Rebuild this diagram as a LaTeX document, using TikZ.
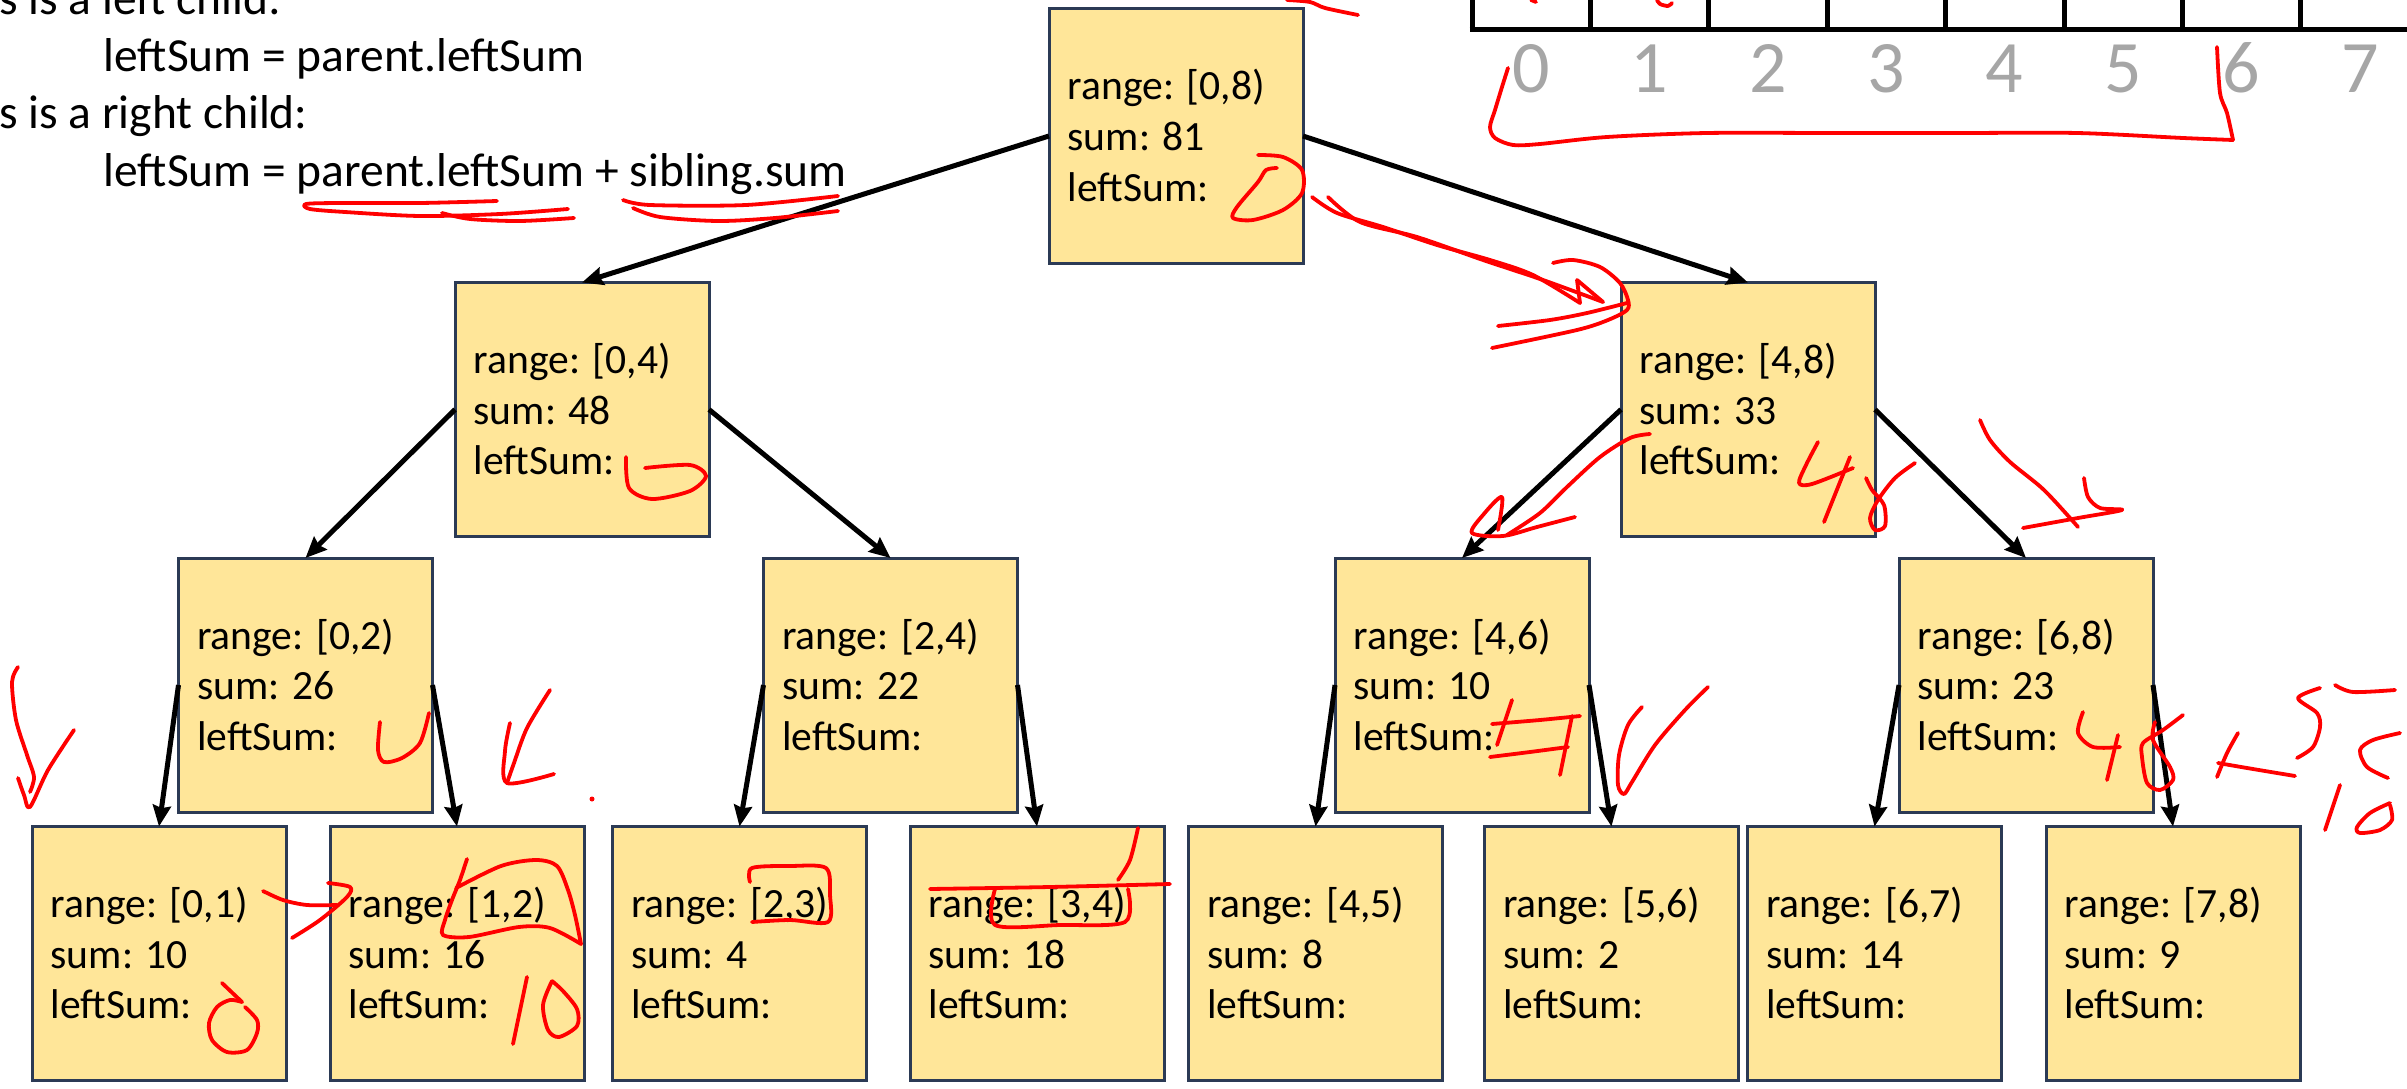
\documentclass[tikz,border=0pt]{standalone}
\usepackage{fontspec}
\setmainfont{Carlito}
\usetikzlibrary{arrows.meta,calc}
\definecolor{boxfill}{HTML}{FFE699}
\definecolor{boxline}{HTML}{2B3A55}
\definecolor{idxgray}{HTML}{A6A6A6}
\definecolor{inkred}{HTML}{FF0000}
\tikzset{
  segbox/.style={draw=boxline, fill=boxfill, line width=3pt, minimum width=254pt, minimum height=254pt, inner sep=0pt, outer sep=0pt},
  celltext/.style={anchor=base west, inner sep=0pt, font=\fontsize{41.6}{50}\selectfont},
  ruletext/.style={anchor=base west, inner sep=0pt, font=\fontsize{47.5}{57}\selectfont},
  idx/.style={anchor=base, inner sep=0pt, text=idxgray, font=\fontsize{74}{80}\selectfont},
  treeedge/.style={line width=5pt, -{Stealth[length=21pt,width=18pt,inset=2.5pt]}},
  cellrule/.style={line width=5pt, black},
  ink/.style={draw=inkred, line width=3.8pt, line cap=round, line join=round},
}
\newcommand{\segnode}[5]{%
  \node[segbox] (#1) at (#2,#3) {};
  \node[celltext] (#1-r) at ($(#1.north west)+(18.5,91)$) {range: #4};
  \node[celltext] (#1-s) at ($(#1.north west)+(18.5,141.7)$) {sum: #5};
  \node[celltext] (#1-l) at ($(#1.north west)+(18.5,192.4)$) {leftSum:};
}
\begin{document}
\begin{tikzpicture}[x=1pt,y=-1pt]
\useasboundingbox (0,0) rectangle (2407,1089);
\fill[white] (0,0) rectangle (2407,1089);

% rules text
\node[ruletext] (t1) at (-1,15) {s is a left child:};
\node[ruletext] (t2) at (103.5,72) {leftSum = parent.leftSum};
\node[ruletext] (t3) at (-1,129) {s is a right child:};
\node[ruletext] (t4) at (103.5,186) {leftSum = parent.leftSum + sibling.sum};

% array
\foreach \k in {0,...,8} {
  \draw[cellrule] ({1472+118.4*\k},-10) -- ({1472+118.4*\k},29.5);
}
\draw[cellrule] (1469.5,29.5) -- (2422,29.5);
\foreach \k in {0,...,7} {
  \node[idx] (i\k) at ({1531+118.4*\k},93) {\k};
}

% tree nodes
\segnode{n08}{1176}{136}{[0,8)}{81}
\segnode{n04}{582}{409.5}{[0,4)}{48}
\segnode{n48}{1748}{409.5}{[4,8)}{33}
\segnode{n02}{305.5}{685}{[0,2)}{26}
\segnode{n24}{890.5}{685}{[2,4)}{22}
\segnode{n46}{1462}{685}{[4,6)}{10}
\segnode{n68}{2026}{685}{[6,8)}{23}
\segnode{n01}{159}{953.5}{[0,1)}{10}
\segnode{n12}{457}{953.5}{[1,2)}{16}
\segnode{n23}{739.5}{953.5}{[2,3)}{4}
\segnode{n34}{1037}{953.5}{[3,4)}{18}
\segnode{n45}{1315.5}{953.5}{[4,5)}{8}
\segnode{n56}{1611.5}{953.5}{[5,6)}{2}
\segnode{n67}{1874.5}{953.5}{[6,7)}{14}
\segnode{n78}{2173}{953.5}{[7,8)}{9}

% edges
\draw[treeedge] (n08.west) -- (n04.north);
\draw[treeedge] (n08.east) -- (n48.north);
\draw[treeedge] (n04.west) -- (n02.north);
\draw[treeedge] (n04.east) -- (n24.north);
\draw[treeedge] (n48.west) -- (n46.north);
\draw[treeedge] (n48.east) -- (n68.north);
\draw[treeedge] (n02.west) -- (n01.north);
\draw[treeedge] (n02.east) -- (n12.north);
\draw[treeedge] (n24.west) -- (n23.north);
\draw[treeedge] (n24.east) -- (n34.north);
\draw[treeedge] (n46.west) -- (n45.north);
\draw[treeedge] (n46.east) -- (n56.north);
\draw[treeedge] (n68.west) -- (n67.north);
\draw[treeedge] (n68.east) -- (n78.north);

% red handwriting
% underlines
\draw[ink] plot[smooth] coordinates {(497,201) (420,203) (340,203) (306,204) (310,209) (345,212) (420,216) (500,214) (568,209)};
\draw[ink] plot[smooth] coordinates {(442,213) (470,219) (520,221) (574,218)};
\draw[ink] plot[smooth] coordinates {(623,200) (650,205) (746,205) (838,196)};
\draw[ink] plot[smooth] coordinates {(633,208) (660,217) (718,221) (775,218) (838,211)};
% top mark
\draw[ink] plot[smooth] coordinates {(1287,0) (1310,2) (1325,8) (1358,15)};
% root 0
\draw[ink] plot[smooth] coordinates {(1258,155) (1283,157) (1302,170) (1302,193) (1283,210) (1253,220) (1233,218) (1237,207) (1258,182) (1266,170) (1277,168)};
% arrow root -> [4,8)
\draw[ink] plot[smooth] coordinates {(1312,197) (1337,213) (1383,227) (1437,245) (1490,260) (1533,275) (1580,303)};
\draw[ink] plot[smooth] coordinates {(1328,197) (1360,222) (1417,237) (1483,260) (1543,280) (1603,302)};
\draw[ink] (1580,303) -- (1577,280) -- (1603,302);
\draw[ink] plot[smooth] coordinates {(1553,263) (1573,260) (1600,267) (1620,283) (1628,300) (1627,310) (1608,320) (1577,330) (1492,348)};
\draw[ink] plot[smooth] coordinates {(1498,326) (1550,320) (1587,313) (1627,303)};
% [0,4) 0
\draw[ink] plot[smooth] coordinates {(626,457) (629,488) (652,499) (690,491) (706,476) (690,465) (645,468)};
% [4,8) 48 and arrow
\draw[ink] plot[smooth] coordinates {(1818,442) (1806,465) (1799,483) (1812,484) (1853,468)};
\draw[ink] (1850,457) -- (1824,522);
\draw[ink] plot[smooth] coordinates {(1915,463) (1895,478) (1878,500) (1870,518) (1875,530) (1885,526) (1884,505) (1872,490) (1866,478)};
\draw[ink] plot[smooth] coordinates {(1650,434) (1630,438) (1600,457) (1567,487) (1540,513) (1507,535)};
\draw[ink] plot[smooth] coordinates {(1575,517) (1537,527) (1503,536) (1472,533) (1483,515) (1502,497) (1498,530)};
\draw[ink] plot[smooth] coordinates {(1980,420) (1990,440) (2010,462) (2044,490) (2078,527)};
\draw[ink] plot[smooth] coordinates {(2084,478) (2088,497) (2100,508) (2122,510) (2078,518) (2023,528)};
% [4,6) 48
\draw[ink] plot[smooth] coordinates {(1492,724) (1540,720) (1580,716)};
\draw[ink] plot[smooth] coordinates {(1490,757) (1530,752) (1568,747)};
\draw[ink] (1572,716) -- (1560,775);
\draw[ink] (1512,700) -- (1497,745);
\draw[ink] plot[smooth] coordinates {(1642,707) (1628,725) (1619,755) (1618,785) (1624,794) (1632,782) (1655,745) (1685,710) (1708,687)};
% [6,8) 48 + ...
\draw[ink] plot[smooth] coordinates {(2083,712) (2078,733) (2093,747) (2120,747)};
\draw[ink] (2118,735) -- (2107,780);
\draw[ink] plot[smooth] coordinates {(2183,715) (2163,730) (2143,743) (2142,757) (2147,783) (2160,790) (2173,780) (2170,767) (2153,740) (2155,722)};
\draw[ink] plot[smooth] coordinates {(2238,733) (2227,753) (2217,777)};
\draw[ink] plot[smooth] coordinates {(2218,763) (2247,768) (2295,776)};
\draw[ink] plot[smooth] coordinates {(2320,688) (2298,698) (2317,713) (2320,727) (2313,747) (2297,758)};
\draw[ink] plot[smooth] coordinates {(2335,685) (2353,692) (2395,690)};
\draw[ink] plot[smooth] coordinates {(2400,733) (2373,740) (2360,750) (2367,767) (2388,778)};
\draw[ink] (2340,785) -- (2325,830);
\draw[ink] plot[smooth] coordinates {(2390,803) (2370,813) (2357,827) (2360,833) (2380,830) (2392,820) (2390,805)};
% left arrow
\draw[ink] plot[smooth] coordinates {(18,667) (12,682) (16,720) (27,755) (34,777) (30,792)};
\draw[ink] plot[smooth] coordinates {(18,778) (24,795) (30,807) (48,770) (74,730)};
% [0,2) U and mark
\draw[ink] plot[smooth] coordinates {(380,722) (378,750) (384,762) (402,758) (420,743) (429,713)};
\draw[ink] plot[smooth] coordinates {(550,690) (527,728) (514,763) (507,783)};
\draw[ink] plot[smooth] coordinates {(510,723) (505,751) (507,783) (554,774)};
\fill[inkred] (592,799) circle (2.5);
% [0,1) -> [1,2)
\draw[ink] plot[smooth] coordinates {(263,891) (283,900) (307,905) (337,905)};
\draw[ink] plot[smooth] coordinates {(328,883) (350,887) (347,897) (320,920) (292,938)};
% [1,2) box and 10
\draw[ink] plot[smooth] coordinates {(467,859) (460,880) (452,900) (445,920) (443,935) (469,937) (519,927) (550,928) (581,944)};
\draw[ink] plot[smooth] coordinates {(581,944) (575,915) (568,890) (557,866) (536,860) (501,866) (456,888)};
\draw[ink] (527,977) -- (513,1044);
\draw[ink] plot[smooth] coordinates {(552,981) (543,1005) (548,1030) (559,1037) (577,1026) (577,1009) (563,991) (552,981)};
% [0,1) 0
\draw[ink] (222,983) -- (242,1002);
\draw[ink] plot[smooth] coordinates {(242,1002) (230,1000) (217,1007) (209,1023) (212,1040) (227,1052) (247,1050) (257,1033) (257,1020) (245,1007)};
% [2,3) box
\draw[ink] plot[smooth] coordinates {(750,882) (752,868) (790,866) (826,868) (830,895) (828,922) (790,920) (752,922)};
% [3,4) marks
\draw[ink] plot[smooth] coordinates {(930,889) (1050,887) (1170,884)};
\draw[ink] plot[smooth] coordinates {(995,889) (995,925) (1060,925) (1125,922) (1128,889)};
\draw[ink] plot[smooth] coordinates {(1138,828) (1130,860) (1118,880)};
% bracket under indices
\draw[ink] plot[smooth] coordinates {(1508,68) (1502,87) (1495,110) (1490,127) (1495,138) (1513,145) (1540,144) (1607,137) (1707,133) (1830,133) (1960,133) (2077,133) (2183,138) (2233,140)};
\draw[ink] plot[smooth] coordinates {(2233,140) (2227,113) (2220,93) (2217,47)};
\draw[ink] plot[smooth] coordinates {(1657,0) (1660,4) (1668,6) (1672,3)};
\draw[ink] (1531,0) -- (1536,2);
\end{tikzpicture}
\end{document}
